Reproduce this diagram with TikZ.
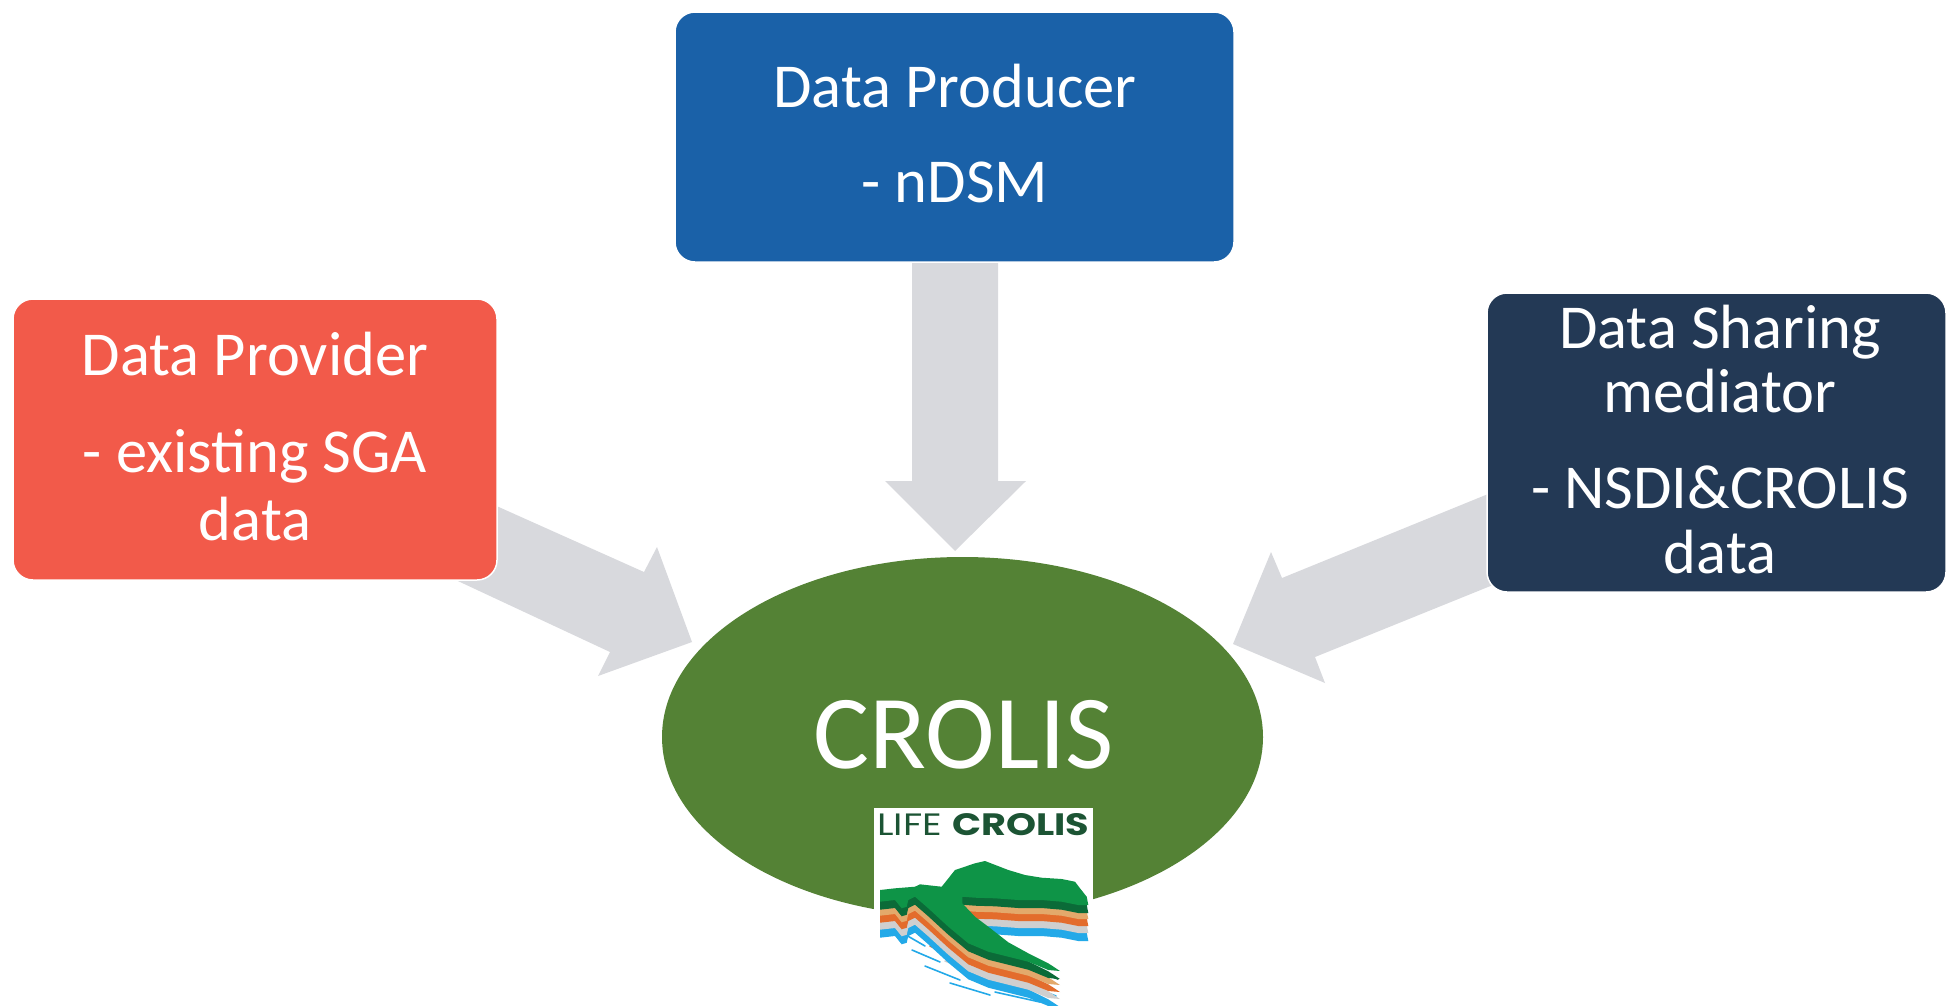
\documentclass[tikz,border=0pt]{standalone}
\usepackage{fontspec}
\setmainfont{Carlito}
\newfontfamily\logofont{Poppins}
\usetikzlibrary{shapes.geometric}
\definecolor{boxblue}{HTML}{1A61A8}
\definecolor{boxcoral}{HTML}{F25A4A}
\definecolor{boxnavy}{HTML}{233955}
\definecolor{ellgreen}{HTML}{548235}
\definecolor{arrowgrey}{HTML}{D8D9DD}
\definecolor{logogreen}{HTML}{1C5434}
\definecolor{mapgreen}{HTML}{0E9447}
\definecolor{mapdark}{HTML}{0B6B38}
\definecolor{maptan}{HTML}{E3A96B}
\definecolor{maporange}{HTML}{E36C2C}
\definecolor{mapgrey}{HTML}{CFCFCF}
\definecolor{mapblue}{HTML}{23A9E8}
\tikzset{
  rolebox/.style={rectangle, rounded corners=20pt, draw=white, line width=1.5pt, inner sep=0pt},
  roletext/.style={anchor=base, inner sep=0pt, text=white, font=\fontsize{62.5}{75}\selectfont},
  blockarrow/.style={fill=arrowgrey},
  streak/.style={line width=1.6pt, line cap=round}
}
\def\croatia{(880,890) -- (895,888.3) -- (915,886.7) -- (920,884.3) -- (941.7,886.7) -- (955,870) -- (975,863.3) -- (985,861) -- (1008.3,870) -- (1025,875) -- (1041.7,877.7) -- (1061.7,879) -- (1075,881.7) -- (1080,888.3) -- (1086.7,896.7) -- (1088.3,905) -- (1078.3,905) -- (1061.7,901.7) -- (1041.7,900) -- (1018.3,900) -- (995,898.3) -- (975,897.7) -- (962.3,896.7) -- (962.3,903.3) -- (975,916.7) -- (988.3,926.7) -- (1008.3,942.3) -- (1028.3,953.3) -- (1048.3,963.3) -- (1060,971) -- (1048.3,970) -- (1028.3,961.7) -- (1008.3,956.7) -- (988.3,951.7) -- (968.3,943.3) -- (948.3,926.7) -- (928.3,908.3) -- (915,896.7) -- (908.3,900) -- (906.7,906.7) -- (901.7,908.3) -- (895,900) -- (880,901.7) -- cycle}
\begin{document}
\begin{tikzpicture}[x=1pt,y=-1pt]
\useasboundingbox (0,0) rectangle (1946,1005);

% block arrows (behind the boxes)
\fill[blockarrow] (912,255) -- (998,255) -- (998,481) -- (1026,481) -- (955,551) -- (885,481) -- (912,481) -- cycle;
\fill[blockarrow] (463,491) -- (644,572) -- (657,547) -- (692,642) -- (598,676) -- (610,652) -- (430,568) -- cycle;
\fill[blockarrow] (1520,481) -- (1282,578) -- (1271,552) -- (1233,644) -- (1325,683) -- (1315,657) -- (1530,570) -- cycle;

% boxes
\node[rolebox, fill=boxblue, minimum width=559pt, minimum height=250pt] (producer) at (954.5,137) {};
\node[rolebox, fill=boxcoral, minimum width=484pt, minimum height=281pt] (provider) at (255,439.5) {};
\node[rolebox, fill=boxnavy, minimum width=459pt, minimum height=299pt] (mediator) at (1716.5,442.5) {};

\node[roletext] (producer1) at (955,107) {Data Producer};
\node[roletext] (producer2) at (955,202) {- nDSM};

\node[roletext] (provider1) at (255,375) {Data Provider};
\node[roletext] (provider2) at (255,472) {- existing SGA};
\node[roletext] (provider3) at (255,540) {data};

\node[roletext] (mediator1) at (1720,348) {Data Sharing};
\node[roletext] (mediator2) at (1720,412) {mediator};
\node[roletext] (mediator3) at (1720,508) {- NSDI\&CROLIS};
\node[roletext] (mediator4) at (1720,573) {data};

% central ellipse
\node[ellipse, fill=ellgreen, minimum width=601pt, minimum height=360pt, inner sep=0pt] (crolis) at (962.5,737) {};
\node[anchor=base, inner sep=0pt, text=white, font=\fontsize{105}{120}\selectfont] (crolistext) at (964,768) {CROLIS};

% logo
\fill[white] (874,808) rectangle (1093,1006);
\node[anchor=base west, inner sep=0pt, text=logogreen] (logotext) at (877,835) {\resizebox{212pt}{22pt}{\logofont LIFE \textbf{CROLIS}}};
% scattered island streaks (under the layers)
\draw[streak, mapblue]   (906,935) -- (925,946);
\draw[streak, mapblue]   (912,950) -- (940,962);
\draw[streak, mapblue]   (925,966) -- (960,980);
\draw[streak, mapblue]   (950,983) -- (990,995);
\draw[streak, mapblue]   (995,992) -- (1040,1002);
\draw[streak, mapblue]   (1040,990) -- (1056,996);
\draw[streak, maporange] (930,946) -- (965,962);
\draw[streak, maporange] (960,966) -- (1000,978);
\draw[streak, maporange] (1005,976) -- (1045,987);
\draw[streak, mapgrey]   (945,961) -- (985,975);
\draw[streak, mapgrey]   (1010,986) -- (1050,994);
\draw[streak, mapgreen]  (935,936) -- (960,948);
\draw[streak, mapgreen]  (985,961) -- (1025,975);
\draw[streak, mapdark]   (1030,969) -- (1058,979);
% layered map
\fill[mapblue]   [shift={(0,36)}] \croatia;
\fill[mapgrey]   [shift={(0,28)}] \croatia;
\fill[maporange] [shift={(0,21)}] \croatia;
\fill[maptan]    [shift={(0,14)}] \croatia;
\fill[mapdark]   [shift={(0,8)}]  \croatia;
\fill[mapgreen] \croatia;
\end{tikzpicture}
\end{document}
